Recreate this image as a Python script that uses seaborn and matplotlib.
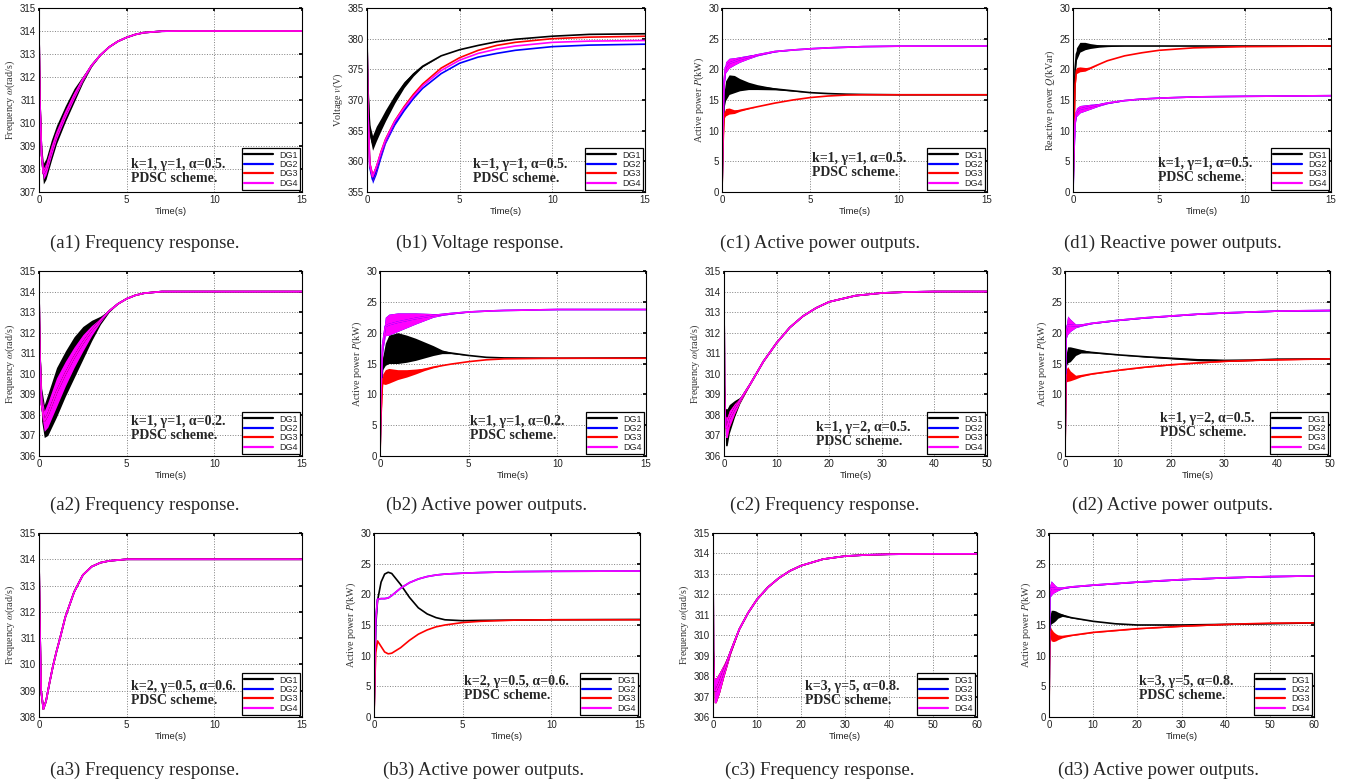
import numpy as np
import matplotlib
matplotlib.use("Agg")
import matplotlib.pyplot as plt
import seaborn as sns

# === DATA ===
# (a1) frequency, k=1, gamma=1, alpha=0.5
A1_T = [0, 0.05, 0.15, 0.25, 0.4, 0.7, 1.0, 1.5, 2.0, 2.5, 3.0, 3.5, 4.0, 4.5, 5.0, 5.5, 6.0, 7.0, 8.0, 15.0]
A1_W = [314, 311, 308.6, 307.8, 308.0, 308.8, 309.5, 310.4, 311.2, 311.9, 312.5, 312.95, 313.3, 313.55, 313.72, 313.85, 313.93, 313.99, 314.0, 314.0]
A1_AMP_DG1 = [0, 0.2, 0.4, 0.45, 0.45, 0.45, 0.4, 0.35, 0.3, 0.15, 0.05, 0, 0, 0, 0, 0, 0, 0, 0, 0]
A1_AMP_DG4 = [0, 0.1, 0.2, 0.25, 0.25, 0.25, 0.2, 0.18, 0.15, 0.08, 0.02, 0, 0, 0, 0, 0, 0, 0, 0, 0]

# (b1) voltage
B1_T = [0, 0.05, 0.15, 0.3, 0.5, 0.75, 1, 1.5, 2, 2.5, 3, 4, 5, 6, 7, 8, 10, 12, 15]
B1_DG1 = [380, 372, 365, 363, 364.5, 366, 367.5, 370.2, 372.5, 374.2, 375.5, 377.2, 378.2, 378.9, 379.5, 379.9, 380.4, 380.7, 380.8]
B1_DG2 = [380, 368, 359, 357, 358.5, 361, 363.3, 366.2, 368.4, 370.3, 371.9, 374.3, 376.0, 377.0, 377.6, 378.1, 378.7, 378.95, 379.1]
B1_DG3 = [380, 368, 359.5, 357.5, 359, 361.5, 363.6, 366.6, 368.9, 370.9, 372.6, 375.2, 376.9, 378.1, 378.9, 379.4, 380.0, 380.25, 380.4]
B1_DG4 = [380, 368, 359.5, 357.5, 359, 361.4, 363.5, 366.5, 368.7, 370.6, 372.3, 374.8, 376.5, 377.6, 378.3, 378.8, 379.4, 379.6, 379.7]
B1_AMP_DG1 = [0, 0.5, 1.0, 1.2, 1.2, 1.0, 0.9, 0.7, 0.5, 0.3, 0.1, 0, 0, 0, 0, 0, 0, 0, 0]
B1_AMP_OTH = [0, 0.3, 0.5, 0.6, 0.6, 0.5, 0.4, 0.3, 0.2, 0.1, 0, 0, 0, 0, 0, 0, 0, 0, 0]

# (c1) active power
C1_T = [0, 0.05, 0.12, 0.2, 0.4, 0.7, 1, 1.5, 2, 3, 4, 5, 6, 7, 8, 10, 15]
C1_DG1 = [0, 8, 15, 16.5, 17.5, 17.6, 17.5, 17.3, 17.1, 16.8, 16.5, 16.2, 16.05, 15.95, 15.9, 15.85, 15.85]
C1_AMP_DG1 = [0, 0.5, 1.2, 1.6, 1.6, 1.4, 1.0, 0.6, 0.4, 0.15, 0.05, 0, 0, 0, 0, 0, 0]
C1_DG24 = [0, 10, 18, 20.3, 21.0, 21.3, 21.6, 22.0, 22.35, 22.9, 23.15, 23.35, 23.5, 23.6, 23.7, 23.78, 23.8]
C1_AMP_DG24 = [0, 0.5, 0.8, 0.9, 0.8, 0.6, 0.45, 0.3, 0.15, 0.05, 0, 0, 0, 0, 0, 0, 0]
C1_DG3 = [0, 7, 12.5, 13.0, 13.2, 13.1, 13.3, 13.6, 13.9, 14.5, 15.0, 15.4, 15.65, 15.8, 15.85, 15.85, 15.85]
C1_AMP_DG3 = [0, 0.3, 0.5, 0.6, 0.5, 0.3, 0.15, 0.05, 0, 0, 0, 0, 0, 0, 0, 0, 0]

# (d1) reactive power
D1_T = [0, 0.05, 0.12, 0.2, 0.4, 0.7, 1, 1.5, 2, 3, 4, 5, 7, 10, 15]
D1_DG1 = [0, 10, 20, 22.5, 23.6, 23.8, 23.8, 23.8, 23.8, 23.8, 23.8, 23.8, 23.8, 23.8, 23.8]
D1_AMP_DG1 = [0, 0.5, 1.0, 1.0, 0.8, 0.6, 0.4, 0.2, 0.1, 0, 0, 0, 0, 0, 0]
D1_DG3 = [0, 9, 17.5, 19.8, 20.0, 20.0, 20.2, 20.8, 21.4, 22.2, 22.7, 23.1, 23.5, 23.7, 23.8]
D1_AMP_DG3 = [0, 0.3, 0.4, 0.5, 0.4, 0.3, 0.1, 0, 0, 0, 0, 0, 0, 0, 0]
D1_DG24 = [0, 6, 11.5, 13.0, 13.5, 13.7, 13.9, 14.2, 14.5, 14.9, 15.15, 15.3, 15.5, 15.6, 15.7]
D1_AMP_DG24 = [0, 0.3, 0.6, 0.7, 0.6, 0.5, 0.4, 0.2, 0.1, 0, 0, 0, 0, 0, 0]

# (a2) frequency, alpha=0.2
A2_T = [0, 0.05, 0.15, 0.3, 0.5, 1, 1.5, 2, 2.5, 3, 3.5, 4, 4.5, 5, 5.5, 6, 7, 15]
A2_W = [314, 311, 308.5, 307.7, 308.0, 309.1, 310.0, 310.8, 311.5, 312.1, 312.6, 313.05, 313.4, 313.65, 313.82, 313.92, 314, 314]
A2_AMP_DG1 = [0, 0.5, 0.8, 0.8, 1.0, 1.2, 1.1, 1.0, 0.8, 0.5, 0.2, 0.05, 0, 0, 0, 0, 0, 0]
A2_AMP_DG4 = [0, 0.3, 0.5, 0.5, 0.6, 0.7, 0.6, 0.5, 0.4, 0.25, 0.1, 0, 0, 0, 0, 0, 0, 0]

# (b2) active power, alpha=0.2
B2_T = [0, 0.05, 0.15, 0.3, 0.5, 1, 1.5, 2, 2.5, 3, 3.5, 4, 5, 6, 7, 10, 15]
B2_DG1 = [0, 8, 15, 16.5, 17.3, 17.5, 17.4, 17.3, 17.2, 17.1, 16.9, 16.7, 16.3, 16.0, 15.9, 15.85, 15.9]
B2_AMP_DG1 = [0, 0.5, 1.0, 1.8, 2.3, 2.5, 2.2, 1.8, 1.3, 0.8, 0.3, 0.1, 0, 0, 0, 0, 0]
B2_DG24 = [0, 10, 18, 21.0, 21.3, 21.7, 22.0, 22.3, 22.55, 22.8, 22.95, 23.1, 23.35, 23.5, 23.6, 23.75, 23.75]
B2_AMP_DG24 = [0, 0.5, 1.0, 1.5, 1.7, 1.5, 1.2, 0.9, 0.6, 0.3, 0.15, 0.1, 0, 0, 0, 0, 0]
B2_DG3 = [0, 6, 12.5, 12.8, 13.0, 13.2, 13.4, 13.7, 14.05, 14.4, 14.65, 14.9, 15.3, 15.6, 15.75, 15.85, 15.85]
B2_AMP_DG3 = [0, 0.3, 0.8, 1.2, 1.2, 0.8, 0.6, 0.4, 0.2, 0.1, 0, 0, 0, 0, 0, 0, 0]

# (c2) frequency, gamma=2
C2_T = [0, 0.1, 0.3, 0.6, 1, 2, 3, 5, 7.5, 10, 12.5, 15, 17.5, 20, 25, 30, 35, 40, 50]
C2_W = [314, 309, 307.4, 307.4, 307.8, 308.3, 308.7, 309.5, 310.6, 311.5, 312.25, 312.8, 313.2, 313.5, 313.8, 313.93, 313.98, 314, 314]
C2_AMP_DG1 = [0, 0.5, 0.9, 0.9, 0.7, 0.4, 0.15, 0, 0, 0, 0, 0, 0, 0, 0, 0, 0, 0, 0]
C2_AMP_DG3 = [0, 0.3, 0.5, 0.5, 0.4, 0.25, 0.1, 0, 0, 0, 0, 0, 0, 0, 0, 0, 0, 0, 0]

# (d2) active power, gamma=2
D2_T = [0, 0.1, 0.2, 0.5, 1, 2, 3, 5, 10, 15, 20, 25, 30, 35, 40, 50]
D2_DG1 = [0, 9, 15.5, 16.4, 16.5, 16.9, 17.0, 16.8, 16.4, 16.1, 15.85, 15.6, 15.5, 15.55, 15.7, 15.75]
D2_AMP_DG1 = [0, 0.5, 1.0, 1.3, 1.2, 0.6, 0.3, 0.1, 0, 0.05, 0.1, 0.15, 0.15, 0.1, 0.05, 0]
D2_DG24 = [0, 10, 20, 21.2, 21.2, 21.1, 21.2, 21.5, 22.0, 22.4, 22.7, 23.0, 23.2, 23.35, 23.5, 23.6]
D2_AMP_DG24 = [0, 0.5, 1.0, 1.5, 1.0, 0.3, 0.15, 0.05, 0.05, 0.05, 0.05, 0.05, 0.05, 0.05, 0.05, 0.05]
D2_DG3 = [0, 7, 13, 13.3, 13.0, 12.8, 13.0, 13.3, 13.9, 14.4, 14.8, 15.1, 15.35, 15.5, 15.6, 15.75]
D2_AMP_DG3 = [0, 0.5, 1.0, 1.2, 0.8, 0.3, 0.15, 0.05, 0.05, 0.05, 0.05, 0.05, 0.05, 0.05, 0.05, 0]

# (a3) frequency, k=2, gamma=0.5, alpha=0.6
A3_T = [0, 0.05, 0.12, 0.25, 0.4, 0.6, 0.8, 1.0, 1.2, 1.5, 2.0, 2.5, 3.0, 3.5, 4, 5, 15]
A3_W = [314, 311.5, 309.0, 308.3, 308.6, 309.3, 309.95, 310.5, 311.0, 311.8, 312.75, 313.4, 313.72, 313.87, 313.94, 314.0, 314.0]

# (b3) active power, k=2
B3_T = [0, 0.05, 0.1, 0.2, 0.4, 0.6, 0.8, 1.0, 1.5, 2.0, 2.5, 3.0, 3.5, 4.0, 5.0, 6.0, 8.0, 10, 15]
B3_DG1 = [0, 8, 15, 19, 22, 23.3, 23.6, 23.4, 21.6, 19.5, 17.8, 16.8, 16.2, 15.85, 15.7, 15.75, 15.8, 15.85, 15.9]
B3_DG24 = [0, 9, 16, 19.2, 19.3, 19.3, 19.4, 19.8, 21.0, 21.9, 22.5, 22.9, 23.15, 23.3, 23.45, 23.55, 23.7, 23.75, 23.8]
B3_DG3 = [0, 6, 10.5, 12.4, 11.5, 10.6, 10.3, 10.4, 11.3, 12.5, 13.5, 14.2, 14.7, 15.0, 15.4, 15.6, 15.8, 15.85, 15.85]

# (c3) frequency, k=3, gamma=5, alpha=0.8
C3_T = [0, 0.1, 0.3, 0.7, 1.5, 2.5, 4, 6, 8, 10, 12.5, 15, 17.5, 20, 25, 30, 35, 40, 50, 60]
C3_W = [314, 309, 307.3, 307.3, 307.7, 308.3, 309.2, 310.3, 311.1, 311.75, 312.35, 312.8, 313.15, 313.4, 313.72, 313.87, 313.93, 313.96, 313.98, 313.98]
C3_AMP = [0, 0.4, 0.6, 0.6, 0.5, 0.3, 0.1, 0, 0, 0, 0, 0, 0, 0, 0, 0, 0, 0, 0, 0]

# (d3) active power, k=3
D3_T = [0, 0.1, 0.2, 0.5, 1, 1.5, 2, 3, 5, 10, 15, 20, 30, 40, 50, 60]
D3_DG1 = [0, 9, 15.5, 16.3, 16.4, 16.5, 16.6, 16.6, 16.2, 15.6, 15.2, 15.0, 15.0, 15.1, 15.2, 15.35]
D3_AMP_DG1 = [0, 0.5, 1.0, 1.1, 1.0, 0.8, 0.5, 0.2, 0.05, 0, 0, 0, 0, 0, 0, 0]
D3_DG24 = [0, 11, 20.5, 21.0, 21.0, 20.9, 20.9, 21.0, 21.2, 21.5, 21.75, 22.0, 22.4, 22.7, 22.9, 23.0]
D3_AMP_DG24 = [0, 0.5, 1.0, 1.2, 0.8, 0.5, 0.3, 0.1, 0.05, 0.05, 0.05, 0.05, 0.05, 0.05, 0.05, 0.05]
D3_DG3 = [0, 8, 14, 13.4, 13.1, 13.0, 13.0, 13.1, 13.3, 13.8, 14.1, 14.4, 14.8, 15.1, 15.3, 15.35]
D3_AMP_DG3 = [0, 0.5, 1.0, 1.0, 0.8, 0.6, 0.4, 0.2, 0.05, 0.05, 0.05, 0.05, 0.05, 0.05, 0.05, 0]

SERIES = ["DG1", "DG2", "DG3", "DG4"]
COLORS = {"DG1": "#000000", "DG2": "#0000ff", "DG3": "#ff0000", "DG4": "#ff00ff"}

FREQ_LABEL = r"Frequency $\omega$(rad/s)"
POWER_LABEL = r"Active power $P$(kW)"

# === STYLE ===
sns.set_theme(style="white")
plt.rcParams["font.family"] = ["Liberation Sans", "DejaVu Sans"]
plt.rcParams["mathtext.fontset"] = "stix"

W, H = 1348, 784
fig = plt.figure(figsize=(W / 100, H / 100), dpi=100)


def rect(left, right, top, bottom):
    return [left / W, 1 - bottom / H, (right - left) / W, (bottom - top) / H]


def draw_panel(box, t, series, amps, xmax, xstep, ylim, ystep, ylabel, note, note_xy, caption, cap_x, cap_y):
    ax = fig.add_axes(rect(*box))
    t = np.asarray(t, float)
    for name in SERIES:
        y = np.asarray(series[name], float)
        if name in amps:
            a = np.asarray(amps[name], float)
            ax.fill_between(t, y - a, y + a, color=COLORS[name], lw=0)
        sns.lineplot(x=t, y=y, ax=ax, color=COLORS[name], lw=1.2, label=name)

    ax.set_xlim(0, xmax)
    ax.set_ylim(*ylim)
    ax.set_xticks(np.arange(0, xmax + 0.01, xstep))
    ax.set_yticks(np.arange(ylim[0], ylim[1] + 0.01, ystep))
    ax.grid(True, ls=":", color="0.5", lw=0.7)
    for s in ax.spines.values():
        s.set_color("black")
        s.set_linewidth(0.8)
    ax.tick_params(direction="in", length=2.5, labelsize=7, pad=2, top=True, right=True,
                   colors="black", labelcolor="#222222")
    ax.set_xlabel("Time(s)", fontsize=6.8, labelpad=1.5, color="#222222")
    ax.set_ylabel(ylabel, fontsize=7.3, family="Liberation Serif", labelpad=2, color="#333333")

    handles, labels = ax.get_legend_handles_labels()
    leg = ax.legend(handles, labels, loc="lower right", fontsize=6.5, frameon=True, fancybox=False,
                    edgecolor="black", framealpha=1, handlelength=3.2, handletextpad=0.7,
                    labelspacing=0.05, borderpad=0.25, borderaxespad=0.2)
    leg.get_frame().set_linewidth(0.9)
    for line in leg.get_lines():
        line.set_linewidth(1.6)

    ax.text(note_xy[0], note_xy[1], note + "\nPDSC scheme.", transform=ax.transAxes,
            ha="left", va="top", fontsize=10, fontweight="bold", family="Liberation Serif",
            linespacing=1.1)
    fig.text(cap_x / W, 1 - cap_y / H, caption, ha="center", va="center",
             fontsize=13.5, family="Liberation Serif")
    return ax


same = lambda v: {n: v for n in SERIES}

# row 1
draw_panel((39, 302, 8, 192), A1_T, same(A1_W), {"DG1": A1_AMP_DG1, "DG4": A1_AMP_DG4},
           15, 5, (307, 315), 1, FREQ_LABEL, "k=1, \u03b3=1, \u03b1=0.5.", (0.35, 0.185),
           "(a1) Frequency response.", 145, 243)
draw_panel((367, 645, 8, 192), B1_T,
           {"DG1": B1_DG1, "DG2": B1_DG2, "DG3": B1_DG3, "DG4": B1_DG4},
           {"DG1": B1_AMP_DG1, "DG2": B1_AMP_OTH, "DG3": B1_AMP_OTH, "DG4": B1_AMP_OTH},
           15, 5, (355, 385), 5, r"Voltage $v$(V)", "k=1, \u03b3=1, \u03b1=0.5.", (0.38, 0.185),
           "(b1) Voltage response.", 480, 243)
draw_panel((722, 987, 8, 192), C1_T,
           {"DG1": C1_DG1, "DG2": C1_DG24, "DG3": C1_DG3, "DG4": C1_DG24},
           {"DG1": C1_AMP_DG1, "DG2": C1_AMP_DG24, "DG3": C1_AMP_DG3, "DG4": C1_AMP_DG24},
           15, 5, (0, 30), 5, POWER_LABEL, "k=1, \u03b3=1, \u03b1=0.5.", (0.34, 0.22),
           "(c1) Active power outputs.", 820, 243)
draw_panel((1073, 1331, 8, 192), D1_T,
           {"DG1": D1_DG1, "DG2": D1_DG24, "DG3": D1_DG3, "DG4": D1_DG24},
           {"DG1": D1_AMP_DG1, "DG2": D1_AMP_DG24, "DG3": D1_AMP_DG3, "DG4": D1_AMP_DG24},
           15, 5, (0, 30), 5, r"Reactive power $Q$(kVar)", "k=1, \u03b3=1, \u03b1=0.5.", (0.33, 0.19),
           "(d1) Reactive power outputs.", 1173, 243)

# row 2
draw_panel((39, 302, 271, 456), A2_T, same(A2_W), {"DG1": A2_AMP_DG1, "DG4": A2_AMP_DG4},
           15, 5, (306, 315), 1, FREQ_LABEL, "k=1, \u03b3=1, \u03b1=0.2.", (0.35, 0.22),
           "(a2) Frequency response.", 145, 505)
draw_panel((380, 646, 271, 456), B2_T,
           {"DG1": B2_DG1, "DG2": B2_DG24, "DG3": B2_DG3, "DG4": B2_DG24},
           {"DG1": B2_AMP_DG1, "DG2": B2_AMP_DG24, "DG3": B2_AMP_DG3, "DG4": B2_AMP_DG24},
           15, 5, (0, 30), 5, POWER_LABEL, "k=1, \u03b3=1, \u03b1=0.2.", (0.34, 0.22),
           "(b2) Active power outputs.", 487, 505)
draw_panel((724, 987, 271, 456), C2_T, same(C2_W), {"DG1": C2_AMP_DG1, "DG3": C2_AMP_DG3, "DG4": C2_AMP_DG3},
           50, 10, (306, 315), 1, FREQ_LABEL, "k=1, \u03b3=2, \u03b1=0.5.", (0.35, 0.19),
           "(c2) Frequency response.", 825, 505)
draw_panel((1065, 1330, 271, 456), D2_T,
           {"DG1": D2_DG1, "DG2": D2_DG24, "DG3": D2_DG3, "DG4": D2_DG24},
           {"DG1": D2_AMP_DG1, "DG2": D2_AMP_DG24, "DG3": D2_AMP_DG3, "DG4": D2_AMP_DG24},
           50, 10, (0, 30), 5, POWER_LABEL, "k=1, \u03b3=2, \u03b1=0.5.", (0.36, 0.24),
           "(d2) Active power outputs.", 1172, 505)

# row 3
draw_panel((39, 302, 533, 717), A3_T, same(A3_W), {},
           15, 5, (308, 315), 1, FREQ_LABEL, "k=2, \u03b3=0.5, \u03b1=0.6.", (0.35, 0.20),
           "(a3) Frequency response.", 145, 770)
draw_panel((374, 640, 533, 717), B3_T,
           {"DG1": B3_DG1, "DG2": B3_DG24, "DG3": B3_DG3, "DG4": B3_DG24}, {},
           15, 5, (0, 30), 5, POWER_LABEL, "k=2, \u03b3=0.5, \u03b1=0.6.", (0.34, 0.23),
           "(b3) Active power outputs.", 484, 770)
draw_panel((713, 977, 533, 717), C3_T, same(C3_W), {"DG1": C3_AMP, "DG3": C3_AMP, "DG4": C3_AMP},
           60, 10, (306, 315), 1, FREQ_LABEL, "k=3, \u03b3=5, \u03b1=0.8.", (0.35, 0.20),
           "(c3) Frequency response.", 820, 770)
draw_panel((1049, 1314, 533, 717), D3_T,
           {"DG1": D3_DG1, "DG2": D3_DG24, "DG3": D3_DG3, "DG4": D3_DG24},
           {"DG1": D3_AMP_DG1, "DG2": D3_AMP_DG24, "DG3": D3_AMP_DG3, "DG4": D3_AMP_DG24},
           60, 10, (0, 30), 5, POWER_LABEL, "k=3, \u03b3=5, \u03b1=0.8.", (0.34, 0.23),
           "(d3) Active power outputs.", 1158, 770)

fig.savefig("out.png", dpi=100, facecolor="white")
plt.close(fig)
